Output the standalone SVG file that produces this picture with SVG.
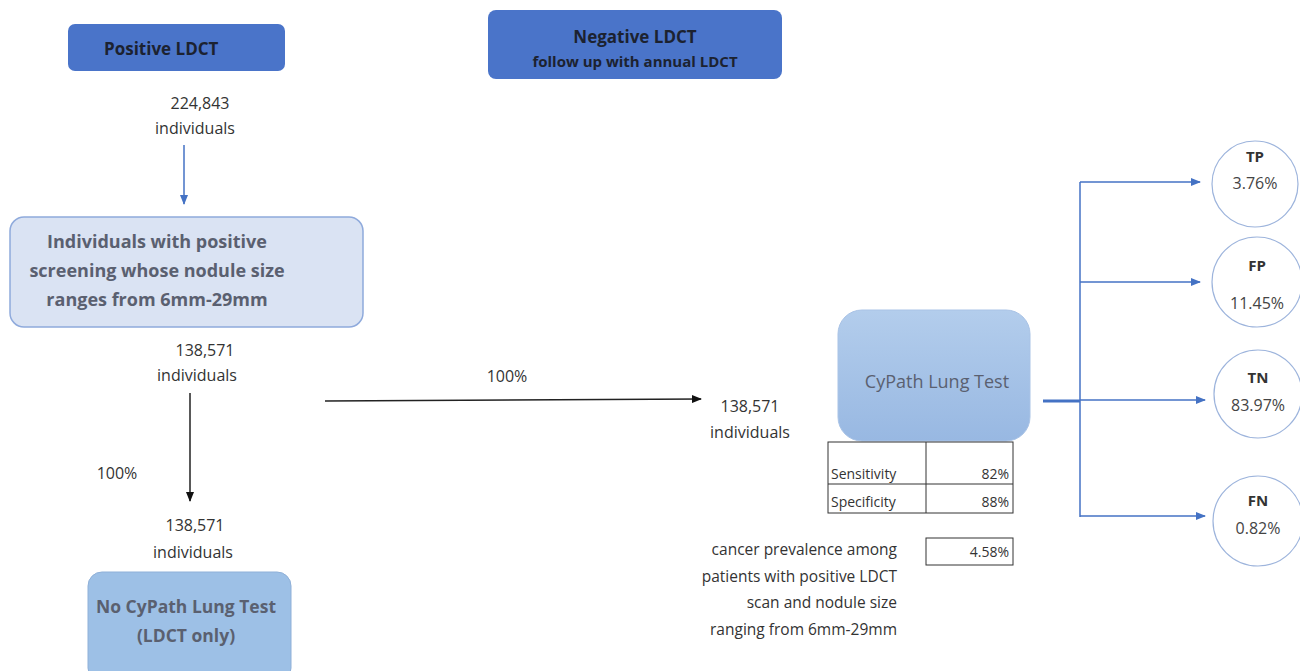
<svg xmlns="http://www.w3.org/2000/svg" width="1300" height="671" viewBox="0 0 1300 671">
<defs>
<style>
text{font-family:"Open Sans","Liberation Sans",sans-serif;}
.num{font-size:16px;fill:#333;text-anchor:middle;}
.dark{font-size:16px;font-weight:bold;fill:#1c2230;text-anchor:middle;}
.box{font-size:16.5px;font-weight:bold;fill:#5a6070;text-anchor:middle;}
.tbl{font-size:14px;fill:#333;}
.prev{font-size:15.5px;fill:#333;text-anchor:end;}
.circ{fill:#fff;stroke:#9db4dc;stroke-width:1.2;}
.ctl{font-size:15px;font-weight:bold;fill:#333;text-anchor:middle;}
.cv{font-size:16px;fill:#444;text-anchor:middle;}
.bl{stroke:#4472c4;stroke-width:1.5;fill:none;}
.bk{stroke:#222;stroke-width:1.5;fill:none;}
</style>
<marker id="ab" markerWidth="10" markerHeight="8" refX="9" refY="4" orient="auto" markerUnits="userSpaceOnUse"><path d="M0,0 L10,4 L0,8 z" fill="#4472c4"/></marker>
<marker id="ak" markerWidth="10" markerHeight="8" refX="9" refY="4" orient="auto" markerUnits="userSpaceOnUse"><path d="M0,0 L10,4 L0,8 z" fill="#111"/></marker>
<linearGradient id="g1" x1="0" y1="0" x2="0" y2="1"><stop offset="0" stop-color="#b3cdec"/><stop offset="1" stop-color="#98b8e2"/></linearGradient>
</defs>
<rect width="1300" height="671" fill="#fff"/>

<g id="positive-ldct">
<rect x="68" y="24" width="217" height="47" rx="7" fill="#4a74c9"/>
<text x="104" y="55" class="dark" style="text-anchor:start;font-size:17px">Positive LDCT</text>
</g>
<g id="negative-ldct">
<rect x="488" y="10" width="294" height="69" rx="8" fill="#4a74c9"/>
<text x="635" y="43" class="dark" style="font-size:17px">Negative LDCT</text>
<text x="635" y="67" class="dark" style="font-size:15px">follow up with annual LDCT</text>
</g>
<g id="count-1">
<text x="200" y="109" class="num">224,843</text>
<text x="195" y="134" class="num">individuals</text>
</g>
<g id="nodule-group">
<rect x="10" y="217" width="353" height="110" rx="14" fill="#dae3f3" stroke="#8faadc" stroke-width="1.5"/>
<text x="157" y="248" class="box" style="font-size:18px">Individuals with positive</text>
<text x="157" y="277" class="box" style="font-size:18px">screening whose nodule size</text>
<text x="157" y="306" class="box" style="font-size:18px">ranges from 6mm-29mm</text>
</g>
<g id="count-2">
<text x="205" y="356" class="num">138,571</text>
<text x="197" y="381" class="num">individuals</text>
</g>
<g id="count-3">
<text x="195" y="531" class="num">138,571</text>
<text x="193" y="558" class="num">individuals</text>
</g>
<g id="no-cypath">
<rect x="88" y="572" width="203" height="110" rx="14" fill="#9dc0e6" stroke="#8fb0d8" stroke-width="1"/>
<text x="186" y="613" class="box" style="font-size:17.5px">No CyPath Lung Test</text>
<text x="186" y="642" class="box" style="font-size:17.5px">(LDCT only)</text>
</g>
<g id="count-4">
<text x="750" y="412" class="num">138,571</text>
<text x="750" y="438" class="num">individuals</text>
</g>
<g id="cypath">
<rect x="838" y="310" width="192" height="131" rx="24" fill="url(#g1)" stroke="#a9c3e6" stroke-width="1"/>
<text x="937" y="388" class="box" style="font-weight:normal;font-size:18px">CyPath Lung Test</text>
</g>
<g id="stats-table">
<rect x="828" y="442" width="185" height="71" fill="none" stroke="#333" stroke-width="1"/>
<line x1="828" y1="484" x2="1013" y2="484" stroke="#333" stroke-width="1"/>
<line x1="926" y1="442" x2="926" y2="513" stroke="#333" stroke-width="1"/>
<text x="831" y="479" class="tbl">Sensitivity</text>
<text x="1009" y="479" class="tbl" text-anchor="end">82%</text>
<text x="831" y="507" class="tbl">Specificity</text>
<text x="1009" y="507" class="tbl" text-anchor="end">88%</text>
</g>
<g id="prevalence">
<rect x="926" y="538" width="87" height="27" fill="none" stroke="#333" stroke-width="1"/>
<text x="1009" y="557" class="tbl" text-anchor="end">4.58%</text>
<text x="897" y="555" class="prev">cancer prevalence among</text>
<text x="897" y="582" class="prev">patients with positive LDCT</text>
<text x="897" y="608" class="prev">scan and nodule size</text>
<text x="897" y="635" class="prev">ranging from 6mm-29mm</text>
</g>
<g id="tp"><circle cx="1255" cy="184" r="43" class="circ"/><text x="1255" y="162" class="ctl">TP</text><text x="1255" y="189" class="cv">3.76%</text></g>
<g id="fp"><circle cx="1257" cy="282" r="45" class="circ"/><text x="1257" y="271" class="ctl">FP</text><text x="1257" y="309" class="cv">11.45%</text></g>
<g id="tn"><circle cx="1258" cy="394" r="44" class="circ"/><text x="1258" y="383" class="ctl">TN</text><text x="1258" y="411" class="cv">83.97%</text></g>
<g id="fn"><circle cx="1258" cy="521" r="45" class="circ"/><text x="1258" y="506" class="ctl">FN</text><text x="1258" y="534" class="cv">0.82%</text></g>

<g id="connectors">
<line x1="184" y1="145" x2="184" y2="204" class="bl" marker-end="url(#ab)"/>
<line x1="190" y1="393" x2="190" y2="501" class="bk" marker-end="url(#ak)"/>
<text x="117" y="479" class="num">100%</text>
<line x1="325" y1="401" x2="701" y2="399" class="bk" marker-end="url(#ak)"/>
<text x="507" y="382" class="num">100%</text>
<line x1="1043" y1="401" x2="1080" y2="401" stroke="#4472c4" stroke-width="3"/>
<line x1="1080" y1="182" x2="1080" y2="517" class="bl"/>
<line x1="1080" y1="182" x2="1200" y2="182" class="bl" marker-end="url(#ab)"/>
<line x1="1080" y1="282" x2="1200" y2="282" class="bl" marker-end="url(#ab)"/>
<line x1="1080" y1="400" x2="1205" y2="400" class="bl" marker-end="url(#ab)"/>
<line x1="1080" y1="516" x2="1205" y2="516" class="bl" marker-end="url(#ab)"/>
</g>
</svg>
